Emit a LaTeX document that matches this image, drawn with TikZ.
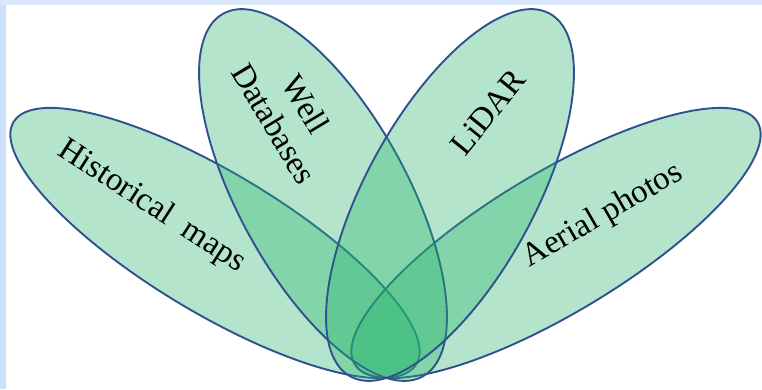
\documentclass[tikz,border=0pt]{standalone}
\usepackage{fontspec}
\setmainfont{Liberation Serif}
\begin{document}
\definecolor{petal}{RGB}{37,181,108}
\definecolor{rim}{RGB}{47,82,143}
\definecolor{frametop}{RGB}{218,232,251}
\definecolor{frameleft}{RGB}{204,224,251}
\begin{tikzpicture}[x=1pt,y=1pt,
  leaf/.style={fill=petal,fill opacity=0.34,draw=rim,line width=1.9pt},
  label/.style={font=\fontsize{33}{37}\selectfont,text=black,inner sep=0pt,align=center}]
\useasboundingbox (0,0) rectangle (762,389);
\fill[white] (0,0) rectangle (762,389);
\fill[frametop] (0,384) rectangle (762,389);
\fill[frameleft] (0,0) rectangle (6,384);

% four overlapping petals
\draw[leaf,rotate around={-31:(215,146)}] (215,146) ellipse [x radius=235,y radius=70];
\draw[leaf,rotate around={31:(556,146)}] (556,146) ellipse [x radius=235,y radius=70];
\draw[leaf,rotate around={-61.2:(323,194)}] (323,194) ellipse [x radius=207,y radius=84];
\draw[leaf,rotate around={61.2:(450,194)}] (450,194) ellipse [x radius=207,y radius=84];

% labels
\node[label,rotate=-33] (hist) at (152,182) {Historical\ \ maps};
\node[label,rotate=30] (aerial) at (603,173) {Aerial photos};
\node[label,rotate=-59] (well) at (290,275) {Well\\Databases};
\node[label,rotate=51] (lidar) at (488,277) {LiDAR};
\end{tikzpicture}
\end{document}
